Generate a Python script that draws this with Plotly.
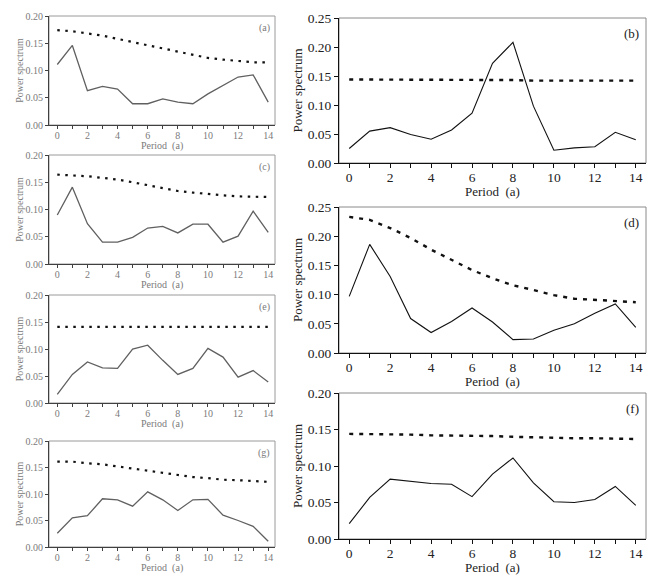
import plotly.graph_objects as go

periods = list(range(15))

a_spec = [0.111, 0.146, 0.063, 0.071, 0.066, 0.039, 0.039, 0.048, 0.042, 0.039, 0.057, 0.073, 0.088, 0.092, 0.042]
a_conf = [0.174, 0.172, 0.168, 0.164, 0.158, 0.152, 0.146, 0.140, 0.134, 0.128, 0.123, 0.120, 0.117, 0.115, 0.115]

c_spec = [0.090, 0.141, 0.074, 0.040, 0.040, 0.049, 0.066, 0.069, 0.057, 0.073, 0.073, 0.040, 0.051, 0.097, 0.058]
c_conf = [0.164, 0.163, 0.161, 0.158, 0.155, 0.150, 0.145, 0.140, 0.134, 0.131, 0.128, 0.126, 0.124, 0.123, 0.123]

e_spec = [0.016, 0.053, 0.076, 0.065, 0.064, 0.100, 0.107, 0.079, 0.053, 0.064, 0.101, 0.085, 0.048, 0.060, 0.039]
e_conf = [0.141] * 15

g_spec = [0.026, 0.055, 0.059, 0.091, 0.089, 0.077, 0.104, 0.089, 0.069, 0.089, 0.090, 0.060, 0.050, 0.039, 0.011]
g_conf = [0.161, 0.161, 0.158, 0.156, 0.152, 0.148, 0.144, 0.140, 0.135, 0.132, 0.130, 0.127, 0.126, 0.124, 0.123]

b_spec = [0.025, 0.055, 0.061, 0.049, 0.041, 0.057, 0.086, 0.172, 0.208, 0.098, 0.022, 0.026, 0.028, 0.053, 0.040]
b_conf = [0.144, 0.144, 0.143, 0.143, 0.143, 0.143, 0.143, 0.143, 0.143, 0.142, 0.142, 0.142, 0.142, 0.142, 0.142]

d_spec = [0.097, 0.186, 0.131, 0.059, 0.035, 0.054, 0.077, 0.053, 0.023, 0.024, 0.039, 0.050, 0.068, 0.084, 0.044]
d_conf = [0.233, 0.228, 0.214, 0.197, 0.177, 0.159, 0.142, 0.128, 0.116, 0.108, 0.099, 0.093, 0.091, 0.089, 0.087]

f_spec = [0.021, 0.057, 0.082, 0.079, 0.076, 0.075, 0.058, 0.089, 0.111, 0.077, 0.051, 0.050, 0.054, 0.072, 0.046]
f_conf = [0.144, 0.144, 0.143, 0.143, 0.142, 0.142, 0.141, 0.141, 0.140, 0.139, 0.138, 0.138, 0.138, 0.137, 0.137]

x_ticks = [0, 2, 4, 6, 8, 10, 12, 14]
x_title = "Period  (a)"
y_title = "Power spectrum"

W, H = 660, 583

def dom_x(l, r):
    return [l / W, r / W]

def dom_y(t, b):
    return [1 - b / H, 1 - t / H]

panels = [
    ("(a)", a_spec, a_conf, (49, 275), (16, 125), 0.20, True),
    ("(c)", c_spec, c_conf, (49, 275), (155, 264), 0.20, True),
    ("(e)", e_spec, e_conf, (49, 275), (295, 403), 0.20, True),
    ("(g)", g_spec, g_conf, (49, 275), (441, 547), 0.20, True),
    ("(b)", b_spec, b_conf, (339, 646), (18, 163), 0.25, False),
    ("(d)", d_spec, d_conf, (339, 646), (207, 353), 0.25, False),
    ("(f)", f_spec, f_conf, (339, 646), (393, 539), 0.20, False),
]

font_family = "Liberation Serif"
fig = go.Figure()
layout = dict(
    width=W, height=H,
    margin=dict(l=0, r=0, t=0, b=0),
    paper_bgcolor="white", plot_bgcolor="white",
    showlegend=False,
    font=dict(family=font_family),
    shapes=[], annotations=[],
)

for i, (lab, spec, conf, xd, yd, ymax, small) in enumerate(panels):
    n = i + 1
    xa = "x" if n == 1 else f"x{n}"
    ya = "y" if n == 1 else f"y{n}"
    xkey = "xaxis" if n == 1 else f"xaxis{n}"
    ykey = "yaxis" if n == 1 else f"yaxis{n}"
    if small:
        line_col = "#606060"
        txt_col = "#7a7a7a"
        axis_col = "#404040"
        frame_col = "#9a9a9a"
        tfs, afs, lfs = 10, 10, 10
        lw = 1.3
        dash = "2.5px,5.5px"
        dw = 2.2
        xr = [-0.55, 14.45]
        ystand = 0
        tlen = 3
        xtls = -2
        xtshift = -21
    else:
        line_col = "#111111"
        txt_col = "#222222"
        axis_col = "#111111"
        frame_col = "#8a8a8a"
        tfs, afs, lfs = 13.5, 13, 13
        lw = 1.1
        dash = "4px,6px"
        dw = 2.4
        xr = [-0.5, 14.5]
        ystand = 2
        tlen = 4
        xtls = -2
        xtshift = -28
    fig.add_trace(go.Scatter(x=periods, y=spec, mode="lines", xaxis=xa, yaxis=ya,
                             line=dict(color=line_col, width=lw)))
    fig.add_trace(go.Scatter(x=periods, y=conf, mode="lines", xaxis=xa, yaxis=ya,
                             line=dict(color="#111111", width=dw, dash=dash)))
    layout[xkey] = dict(
        domain=dom_x(*xd), anchor=ya, range=xr, automargin=False,
        tickvals=x_ticks, ticks="outside", ticklen=tlen, tickcolor=axis_col,
        ticklabelstandoff=xtls,
        showline=True, linecolor=axis_col, linewidth=1,
        showgrid=False, zeroline=False,
        minor=dict(tickvals=[1, 3, 5, 7, 9, 11, 13], ticks="outside", ticklen=tlen, tickcolor=axis_col),
        tickfont=dict(size=tfs, color=txt_col, family=font_family),
    )
    layout[ykey] = dict(
        domain=dom_y(*yd), anchor=xa, range=[0, ymax], automargin=False,
        dtick=0.05, tickformat=".2f", ticks="outside", ticklen=tlen, tickcolor=axis_col,
        showline=True, linecolor=axis_col, linewidth=1,
        showgrid=False, zeroline=False,
        tickfont=dict(size=tfs, color=txt_col, family=font_family),
        title=dict(text=y_title, font=dict(size=afs, color=txt_col, family=font_family), standoff=ystand),
    )
    layout["shapes"].append(dict(type="rect", xref=f"{xa} domain", yref=f"{ya} domain",
                                 x0=0, x1=1, y0=0, y1=1, line=dict(color=frame_col, width=1), layer="below"))
    layout["annotations"].append(dict(text=lab, xref=f"{xa} domain", yref=f"{ya} domain",
                                      x=0.985, y=0.96, xanchor="right", yanchor="top", showarrow=False,
                                      font=dict(size=lfs, color=txt_col, family=font_family)))
    layout["annotations"].append(dict(text=x_title, xref=f"{xa} domain", yref=f"{ya} domain",
                                      x=0.5, y=0, xanchor="center", yanchor="middle", yshift=xtshift,
                                      showarrow=False,
                                      font=dict(size=afs, color=txt_col, family=font_family)))

fig.update_layout(**layout)
fig.write_html("out.html", config={"displayModeBar": False},
               post_script="document.body.style.margin='0';document.body.style.padding='0';")
